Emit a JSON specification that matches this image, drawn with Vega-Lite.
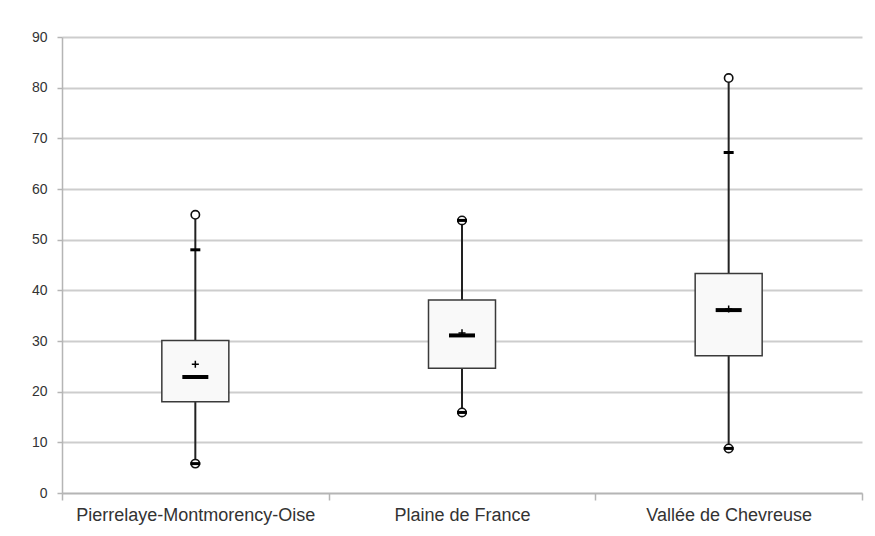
{
  "$schema": "https://vega.github.io/schema/vega-lite/v6.json",
  "width": 800,
  "height": 456,
  "autosize": {"type": "none"},
  "padding": {"left": 62, "top": 37, "right": 13, "bottom": 43},
  "background": "white",
  "config": {
    "view": {"stroke": null},
    "font": "Liberation Sans",
    "axis": {"labelFont": "Liberation Sans", "labelColor": "#333", "domainColor": "#b5b5b5", "tickColor": "#b5b5b5", "domainWidth": 1.5, "tickWidth": 1.5}
  },
  "data": {
    "values": [
      {"region": "Pierrelaye-Montmorency-Oise", "min": 5.8, "p10": 5.8, "q1": 18, "median": 22.9, "mean": 25.4, "q3": 30.1, "p90": 48, "max": 54.9},
      {"region": "Plaine de France", "min": 15.9, "p10": 15.9, "q1": 24.6, "median": 31.1, "mean": 31.6, "q3": 38.1, "p90": 53.8, "max": 53.8},
      {"region": "Vallée de Chevreuse", "min": 8.8, "p10": 8.8, "q1": 27.1, "median": 36.1, "mean": 36.3, "q3": 43.3, "p90": 67.2, "max": 81.9}
    ]
  },
  "encoding": {
    "x": {
      "field": "region", "type": "nominal", "sort": null,
      "scale": {"paddingInner": 0, "paddingOuter": 0},
      "axis": {"title": null, "labelAngle": 0, "labelFontSize": 18, "labelLimit": 0, "labelPadding": 6, "tickBand": "extent", "tickSize": 7, "grid": false}
    }
  },
  "layer": [
    {
      "mark": {"type": "rule", "color": "#222", "strokeWidth": 2},
      "encoding": {
        "y": {"field": "min", "type": "quantitative",
          "scale": {"domain": [0, 90], "nice": false},
          "axis": {"title": null, "values": [0,10,20,30,40,50,60,70,80,90], "labelFontSize": 14, "labelPadding": 10, "tickSize": 5, "gridColor": "#cdcdcd", "gridWidth": 2}},
        "y2": {"field": "max"}
      }
    },
    {
      "mark": {"type": "bar", "size": 67, "fill": "#f9f9f9", "stroke": "#3a3a3a", "strokeWidth": 1.5},
      "encoding": {
        "y": {"field": "q1", "type": "quantitative"},
        "y2": {"field": "q3"}
      }
    },
    {
      "mark": {"type": "tick", "color": "#000", "size": 26, "thickness": 4, "opacity": 1},
      "encoding": {"y": {"field": "median", "type": "quantitative"}}
    },
    {
      "mark": {"type": "point", "shape": "M-1,0H1M0,-1V1", "filled": false, "stroke": "#000", "strokeWidth": 1.5, "size": 50, "opacity": 1},
      "encoding": {"y": {"field": "mean", "type": "quantitative"}}
    },
    {
      "transform": [{"fold": ["min", "max"], "as": ["stat", "val"]}],
      "mark": {"type": "point", "shape": "circle", "filled": true, "fill": "white", "stroke": "#111", "strokeWidth": 1.6, "size": 70, "opacity": 1},
      "encoding": {"y": {"field": "val", "type": "quantitative"}}
    },
    {
      "transform": [{"fold": ["p10", "p90"], "as": ["stat", "val"]}],
      "mark": {"type": "tick", "color": "#000", "size": 10, "thickness": 3, "opacity": 1},
      "encoding": {"y": {"field": "val", "type": "quantitative"}}
    }
  ]
}
